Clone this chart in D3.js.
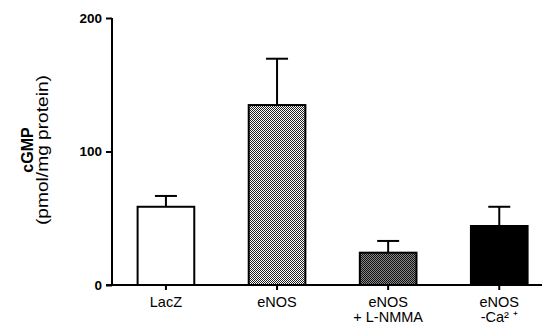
<!DOCTYPE html>
<html>
<head>
<meta charset="utf-8">
<script src="https://cdn.jsdelivr.net/npm/d3@7"></script>
<style>
body { margin: 0; background: #fff; }
svg { display: block; font-family: "Liberation Sans", Arial, sans-serif; }
</style>
</head>
<body>
<div id="chart"></div>
<script>
var categories = ["LacZ", "eNOS", "eNOS|+ L-NMMA", "eNOS|-Ca\u00B2 \u207A"];
var means = [58.6, 134.8, 24.2, 44.2];
var errTops = [66.7, 169.5, 33, 58.6];
var yTicks = [0, 100, 200];
var fills = ["#fff", "url(#chkLight)", "url(#chkDark)", "#000"];

var width = 542, height = 324;
var svgContainer = d3.select("#chart").append("svg")
	.attr("width", width)
	.attr("height", height);

// dithered fills like the print
var defs = svgContainer.append("defs");
var p1 = defs.append("pattern").attr("id", "chkLight")
	.attr("patternUnits", "userSpaceOnUse").attr("width", 2).attr("height", 2);
p1.append("rect").attr("width", 2).attr("height", 2).attr("fill", "#fff");
p1.append("rect").attr("width", 1).attr("height", 1).attr("fill", "#222");
p1.append("rect").attr("x", 1).attr("y", 1).attr("width", 1).attr("height", 1).attr("fill", "#222");
var p2 = defs.append("pattern").attr("id", "chkDark")
	.attr("patternUnits", "userSpaceOnUse").attr("width", 2).attr("height", 2);
p2.append("rect").attr("width", 2).attr("height", 2).attr("fill", "#888");
p2.append("rect").attr("width", 1).attr("height", 1).attr("fill", "#111");
p2.append("rect").attr("x", 1).attr("y", 1).attr("width", 1).attr("height", 1).attr("fill", "#111");

var axisX = 112, baseY = 285;

var y = d3.scaleLinear().domain([0, 200]).range([baseY, 18]);
var x = d3.scaleBand().domain(categories)
	.range([axisX, width])
	.paddingInner(0.49)
	.paddingOuter(0.18)
	.align(0.64);

// y axis
var yAxis = d3.axisLeft(y).tickValues(yTicks).tickSize(6).tickPadding(4);
var yG = svgContainer.append("g")
	.attr("transform", "translate(" + axisX + ",0)")
	.call(yAxis);
yG.select(".domain").attr("stroke-width", 2).attr("d", "M0," + y(200) + "V" + baseY);
yG.selectAll(".tick line").attr("stroke-width", 2);
yG.selectAll(".tick text")
	.attr("font-size", 13.5).attr("font-weight", "bold").attr("fill", "#000")
	.attr("font-family", "Liberation Sans, Arial, sans-serif");

// bars
svgContainer.selectAll("rect.bar").data(categories).enter().append("rect")
	.attr("class", "bar")
	.attr("x", d => x(d))
	.attr("y", (d, i) => y(means[i]))
	.attr("width", x.bandwidth())
	.attr("height", (d, i) => baseY - y(means[i]))
	.attr("fill", (d, i) => fills[i])
	.attr("stroke", "#000")
	.attr("stroke-width", 2);

// error bars (upper only)
var capW = 22;
categories.forEach(function (d, i) {
	var cx = x(d) + x.bandwidth() / 2;
	svgContainer.append("line")
		.attr("x1", cx).attr("x2", cx)
		.attr("y1", y(means[i])).attr("y2", y(errTops[i]))
		.attr("stroke", "#000").attr("stroke-width", 2);
	svgContainer.append("line")
		.attr("x1", cx - capW / 2).attr("x2", cx + capW / 2)
		.attr("y1", y(errTops[i])).attr("y2", y(errTops[i]))
		.attr("stroke", "#000").attr("stroke-width", 2);
});

// x axis
var xAxis = d3.axisBottom(x).tickSize(5).tickFormat("");
var xG = svgContainer.append("g")
	.attr("transform", "translate(0," + baseY + ")")
	.call(xAxis);
xG.select(".domain").attr("stroke-width", 2).attr("d", "M" + (axisX - 6) + ",0H" + width);
xG.selectAll(".tick line").attr("stroke-width", 2);

categories.forEach(function (d) {
	var parts = d.split("|");
	var t = svgContainer.append("text")
		.attr("x", x(d) + x.bandwidth() / 2)
		.attr("y", 307)
		.attr("text-anchor", "middle")
		.attr("font-size", 14.5)
		.attr("fill", "#000");
	parts.forEach(function (p, j) {
		t.append("tspan")
			.attr("x", x(d) + x.bandwidth() / 2)
			.attr("dy", j === 0 ? 0 : 15)
			.text(p);
	});
});

// y label
svgContainer.append("text")
	.attr("transform", "translate(33,150) rotate(-90)")
	.attr("text-anchor", "middle")
	.attr("font-size", 16)
	.attr("font-weight", "bold")
	.text("cGMP");
svgContainer.append("text")
	.attr("transform", "translate(48,150) rotate(-90)")
	.attr("text-anchor", "middle")
	.attr("font-size", 17)
	.attr("textLength", 150)
	.attr("lengthAdjust", "spacingAndGlyphs")
	.text("(pmol/mg protein)");
</script>
</body>
</html>
